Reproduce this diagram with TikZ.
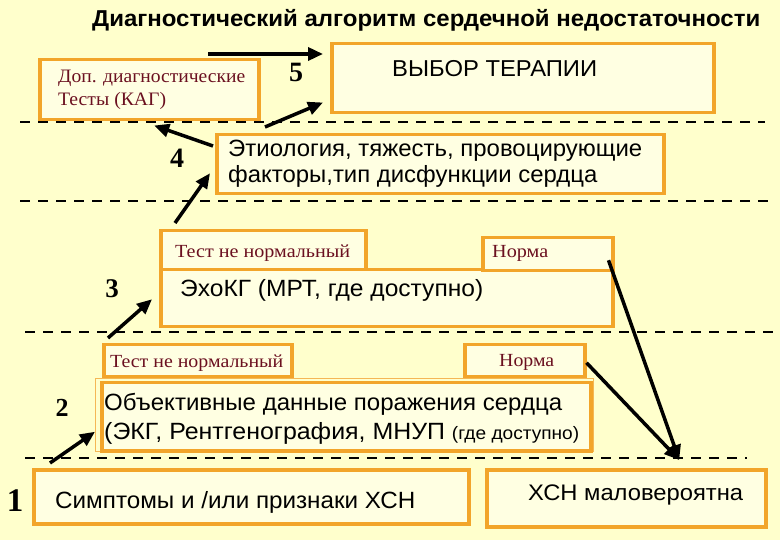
\documentclass[tikz,border=0pt]{standalone}
\usepackage{fontspec}
\setmainfont{Liberation Serif}
\setsansfont{Liberation Sans}
\usepackage{graphicx}
\usetikzlibrary{arrows.meta,calc}
\definecolor{bgyellow}{HTML}{FFFFCC}
\definecolor{boxfill}{HTML}{FFFFE2}
\definecolor{orangeB}{HTML}{F2A52A}
\definecolor{darkred}{HTML}{6B1020}
\newcommand\fitw[2]{\resizebox{#1pt}{\height}{#2}}
\begin{document}
\begin{tikzpicture}[x=1pt,y=-1pt,
  obox/.style={draw=orangeB, line width=3.5pt, fill=boxfill, inner sep=0pt, anchor=north west},
  txt/.style={anchor=base west, inner sep=0pt},
  sanstxt/.style={txt, font=\sffamily},
  redtxt/.style={txt, text=darkred},
  digit/.style={anchor=base, inner sep=0pt},
  arr/.style={line width=3.5pt, black, -{Triangle[length=15pt,width=13pt]}},
  sep/.style={line width=2.3pt, black, dash pattern=on 10pt off 8pt}]
\useasboundingbox (0,0) rectangle (780,540);
\fill[bgyellow] (0,0) rectangle (780,540);

% separators
\draw[sep] (20,122) -- (765,122);
\draw[sep] (20,201) -- (770,201);
\draw[sep] (25,332) -- (780,332);
\draw[sep] (25,458) -- (747,458);

% title
\node[txt] (title) at (92,27) {\fitw{668}{\fontsize{23}{26}\selectfont\sffamily\bfseries Диагностический алгоритм сердечной недостаточности}};

% boxes
\node[obox, minimum width=219pt, minimum height=60pt] (dop) at (38,58) {};
\node[obox, minimum width=382pt, minimum height=69pt] (vybor) at (330,42) {};
\node[obox, minimum width=447pt, minimum height=59pt] (etio) at (215,133) {};
\node[obox, minimum width=452pt, minimum height=57pt] (echo) at (159,268) {};
\node[obox, minimum width=205pt, minimum height=39pt] (test1) at (159,229) {};
\node[obox, minimum width=130pt, minimum height=33pt] (norma1) at (481,236) {};
\node[obox, minimum width=188pt, minimum height=32pt] (test2) at (102,343) {};
\node[obox, minimum width=120pt, minimum height=32pt] (norma2) at (463,343) {};
\draw[orangeB!80, line width=0.8pt] (95,378) rectangle (593,451);
\node[obox, minimum width=489pt, minimum height=68pt] (obj) at (100,381) {};
\node[obox, minimum width=435pt, minimum height=54pt] (simp) at (32,468) {};
\node[obox, minimum width=279pt, minimum height=57pt] (xsn) at (485,468) {};

% texts
\node[redtxt] (tdop1) at (58,83) {\fitw{187}{\fontsize{19}{22}\selectfont Доп. диагностические}};
\node[redtxt] (tdop2) at (58,106) {\fitw{108}{\fontsize{19}{22}\selectfont Тесты (КАГ)}};
\node[sanstxt] (tvybor) at (392,77) {\fitw{205}{\fontsize{23}{26}\selectfont ВЫБОР ТЕРАПИИ}};
\node[sanstxt] (tetio1) at (228,157) {\fitw{414}{\fontsize{23.5}{26}\selectfont Этиология, тяжесть, провоцирующие}};
\node[sanstxt] (tetio2) at (228,183) {\fitw{369}{\fontsize{23.5}{26}\selectfont факторы,тип дисфункции сердца}};
\node[redtxt] (ttest1) at (175,258) {\fitw{175}{\fontsize{18.5}{22}\selectfont Тест не нормальный}};
\node[redtxt] (tnorma1) at (492,258) {\fitw{56}{\fontsize{18.5}{22}\selectfont Норма}};
\node[sanstxt] (techo) at (180,297) {\fitw{303}{\fontsize{23.5}{26}\selectfont ЭхоКГ (МРТ, где доступно)}};
\node[redtxt] (ttest2) at (110,367) {\fitw{173}{\fontsize{18.5}{22}\selectfont Тест не нормальный}};
\node[redtxt] (tnorma2) at (499,367) {\fitw{55}{\fontsize{18.5}{22}\selectfont Норма}};
\node[sanstxt] (tobj1) at (104,410) {\fitw{458}{\fontsize{23.5}{26}\selectfont Объективные данные поражения сердца}};
\node[sanstxt] (tobj2) at (104,439) {\fitw{475}{\fontsize{23.5}{26}\selectfont (ЭКГ, Рентгенография, МНУП {\fontsize{18}{20}\selectfont(где доступно)}}};
\node[sanstxt] (tsimp) at (55,508) {\fitw{360}{\fontsize{23.5}{26}\selectfont Симптомы и /или признаки ХСН}};
\node[sanstxt] (txsn) at (528,500) {\fitw{215}{\fontsize{22.5}{25}\selectfont ХСН маловероятна}};

% step numbers
\node[digit, font=\bfseries\fontsize{28}{30}\selectfont] (n5) at (296,82) {5};
\node[digit, font=\bfseries\fontsize{28}{30}\selectfont] (n4) at (177,168) {4};
\node[digit, font=\bfseries\fontsize{27}{30}\selectfont] (n3) at (112,298) {3};
\node[digit, font=\bfseries\fontsize{26}{30}\selectfont] (n2) at (62,417) {2};
\node[digit, font=\bfseries\fontsize{33}{36}\selectfont] (n1) at (15,511) {1};

% connector end points
\coordinate (a1s) at (208,54);
\coordinate (a2s) at ($(etio.north west)+(50,-6)$);
\coordinate (a2e) at ($(vybor.south west)+(-7,-12)$);
\coordinate (a3s) at ($(etio.north west)+(-2,13)$);
\coordinate (a3e) at ($(dop.south)+(5,4)$);
\coordinate (a4s) at ($(test1.north west)+(16,-6)$);
\coordinate (a4e) at ($(etio.west)+(-5,9)$);
\coordinate (a5s) at ($(test2.north west)+(6,-5)$);
\coordinate (a5e) at ($(echo.west)+(-7,1)$);
\coordinate (a6s) at ($(simp.north west)+(18,-5)$);
\coordinate (a6e) at ($(obj.west)+(-5,15)$);
\coordinate (a7s) at ($(norma1.east)+(-6,6)$);
\coordinate (a8s) at ($(norma2.east)+(0,2)$);
\coordinate (xsnin) at ($(xsn.north)+(53,-8)$);

% connectors
\draw[arr] (a1s) -- ($(vybor.west |- a1s)+(-7,0)$);
\draw[arr] (a2s) -- (a2e);
\draw[arr] (a3s) -- (a3e);
\draw[arr] (a4s) -- (a4e);
\draw[arr] (a5s) -- (a5e);
\draw[arr] (a6s) -- (a6e);
\draw[arr] (a7s) -- (xsnin);
\draw[arr] (a8s) -- (xsnin);
\end{tikzpicture}
\end{document}
